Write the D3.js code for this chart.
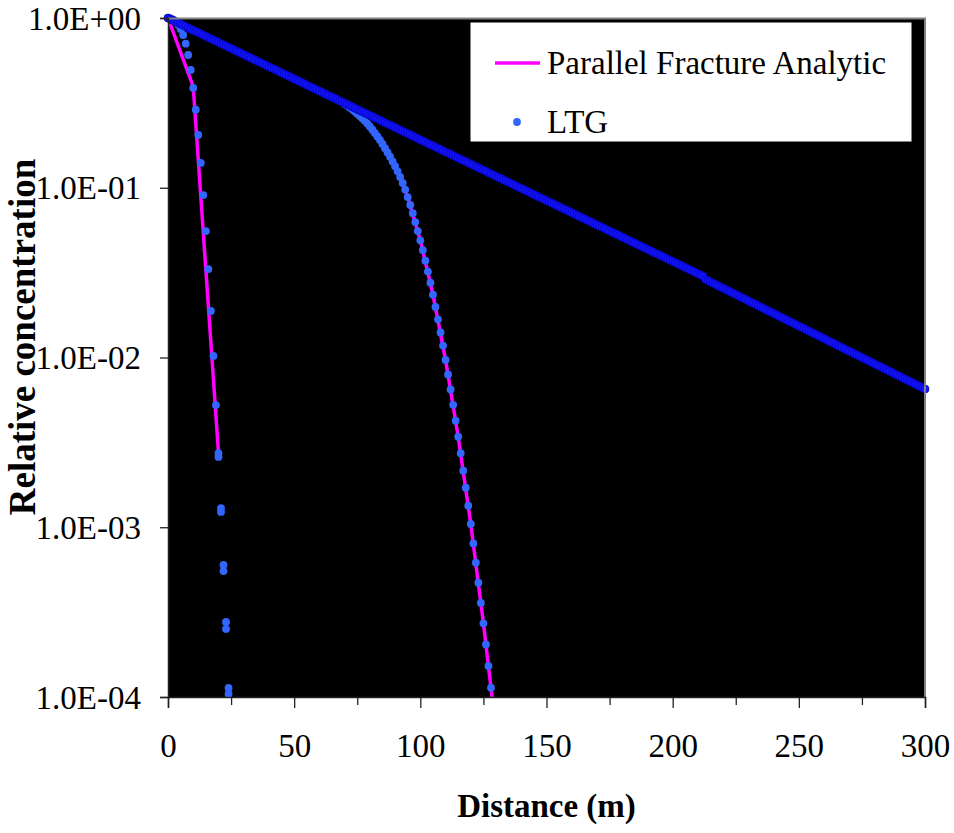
<!DOCTYPE html>
<html>
<head>
<meta charset="utf-8">
<script src="https://cdn.jsdelivr.net/npm/d3@7"></script>
<style>
  body { margin: 0; background: #fff; }
  text { font-family: "Liberation Serif", "Times New Roman", serif; }
</style>
</head>
<body>
<div id="chart"></div>
<script>
// all concentrations are stored as log10(C/C0), distances in m
var stepM = 1;

// LTG, far fracture (straight line), x = 0..300 every 1 m
var ltgFar = [
  0,-0.007,-0.014,-0.022,-0.029,-0.036,-0.043,-0.050,-0.057,-0.065,
  -0.072,-0.079,-0.086,-0.093,-0.100,-0.108,-0.115,-0.122,-0.129,-0.136,
  -0.143,-0.151,-0.158,-0.165,-0.172,-0.179,-0.186,-0.194,-0.201,-0.208,
  -0.215,-0.222,-0.229,-0.237,-0.244,-0.251,-0.258,-0.265,-0.272,-0.280,
  -0.287,-0.294,-0.301,-0.308,-0.315,-0.323,-0.330,-0.337,-0.344,-0.351,
  -0.359,-0.366,-0.373,-0.380,-0.387,-0.394,-0.402,-0.409,-0.416,-0.423,
  -0.430,-0.437,-0.445,-0.452,-0.459,-0.466,-0.473,-0.480,-0.488,-0.495,
  -0.502,-0.509,-0.516,-0.523,-0.531,-0.538,-0.545,-0.552,-0.559,-0.566,
  -0.574,-0.581,-0.588,-0.595,-0.602,-0.609,-0.617,-0.624,-0.631,-0.638,
  -0.645,-0.652,-0.660,-0.667,-0.674,-0.681,-0.688,-0.695,-0.703,-0.710,
  -0.717,-0.724,-0.731,-0.739,-0.746,-0.753,-0.760,-0.767,-0.774,-0.782,
  -0.789,-0.796,-0.803,-0.810,-0.817,-0.825,-0.832,-0.839,-0.846,-0.853,
  -0.860,-0.868,-0.875,-0.882,-0.889,-0.896,-0.903,-0.911,-0.918,-0.925,
  -0.932,-0.939,-0.946,-0.954,-0.961,-0.968,-0.975,-0.982,-0.989,-0.997,
  -1.004,-1.011,-1.018,-1.025,-1.032,-1.040,-1.047,-1.054,-1.061,-1.068,
  -1.076,-1.083,-1.090,-1.097,-1.104,-1.111,-1.119,-1.126,-1.133,-1.140,
  -1.147,-1.154,-1.162,-1.169,-1.176,-1.183,-1.190,-1.197,-1.205,-1.212,
  -1.219,-1.226,-1.233,-1.240,-1.248,-1.255,-1.262,-1.269,-1.276,-1.283,
  -1.291,-1.298,-1.305,-1.312,-1.319,-1.326,-1.334,-1.341,-1.348,-1.355,
  -1.362,-1.369,-1.377,-1.384,-1.391,-1.398,-1.405,-1.412,-1.420,-1.427,
  -1.434,-1.441,-1.448,-1.456,-1.463,-1.470,-1.477,-1.484,-1.491,-1.499,
  -1.506,-1.513,-1.520,-1.540,-1.547,-1.555,-1.562,-1.570,-1.577,-1.585,
  -1.592,-1.599,-1.607,-1.614,-1.622,-1.629,-1.636,-1.644,-1.651,-1.659,
  -1.666,-1.674,-1.681,-1.688,-1.696,-1.703,-1.711,-1.718,-1.726,-1.733,
  -1.740,-1.748,-1.755,-1.763,-1.770,-1.777,-1.785,-1.792,-1.800,-1.807,
  -1.815,-1.822,-1.829,-1.837,-1.844,-1.852,-1.859,-1.866,-1.874,-1.881,
  -1.889,-1.896,-1.904,-1.911,-1.918,-1.926,-1.933,-1.941,-1.948,-1.956,
  -1.963,-1.970,-1.978,-1.985,-1.993,-2.000,-2.007,-2.015,-2.022,-2.030,
  -2.037,-2.045,-2.052,-2.059,-2.067,-2.074,-2.082,-2.089,-2.097,-2.104,
  -2.111,-2.119,-2.126,-2.134,-2.141,-2.148,-2.156,-2.163,-2.171,-2.178,
  -2.186
];
var ltgFarStart = 0;

// LTG, middle curve, x = 60..128 every 1 m
var ltgMid = [
  -0.430,-0.437,-0.445,-0.452,-0.459,-0.466,-0.473,-0.480,-0.488,-0.495,
  -0.506,-0.516,-0.527,-0.538,-0.551,-0.564,-0.577,-0.591,-0.606,-0.622,
  -0.639,-0.658,-0.678,-0.698,-0.719,-0.742,-0.767,-0.792,-0.817,-0.845,
  -0.873,-0.903,-0.936,-0.972,-1.011,-1.055,-1.101,-1.150,-1.202,-1.255,
  -1.310,-1.368,-1.430,-1.494,-1.559,-1.630,-1.702,-1.775,-1.852,-1.930,
  -2.014,-2.100,-2.188,-2.279,-2.372,-2.467,-2.564,-2.667,-2.767,-2.873,
  -2.981,-3.095,-3.209,-3.327,-3.446,-3.566,-3.690,-3.817,-3.945
];
var ltgMidStart = 60;

// LTG, steep curve near the source (pairs at the tail)
var steepX = [0,1,2,3,4,5,6,7,8,9,10,11,12,13,14,15,16,17,18,19,20,20,21,21,22,22,23,23,24,24];
var steepLog = [0,-0.003,-0.010,-0.021,-0.040,-0.065,-0.100,-0.151,-0.218,-0.306,
  -0.412,-0.540,-0.689,-0.854,-1.043,-1.255,-1.479,-1.726,-1.991,-2.280,
  -2.563,-2.586,-2.887,-2.910,-3.222,-3.258,-3.558,-3.599,-3.947,-3.982];

// Parallel fracture analytic
var anaNearX = [0, 10, 20];
var anaNearLog = [0, -0.405, -2.56];
var anaMidX = [60,65,70,75,80,85,90,95,100,105,110,115,120,125,130];
var anaMidLog = [-0.430,-0.466,-0.506,-0.564,-0.639,-0.742,-0.873,-1.055,-1.310,-1.630,-2.014,-2.467,-2.981,-3.566,-4.20];

var xMajor = [0,50,100,150,200,250,300];
var xMinor = [25,75,125,175,225,275];
var yTicks = [1e-4,1e-3,1e-2,1e-1,1];
var yTickLabels = ["1.0E-04","1.0E-03","1.0E-02","1.0E-01","1.0E+00"];
var legendLabels = ["Parallel Fracture Analytic","LTG"];

var margin = {top: 18, right: 29, bottom: 136, left: 168},
    width = 954 - margin.left - margin.right,
    height = 833 - margin.top - margin.bottom;

var x = d3.scaleLinear().domain([0, 300]).range([0, width]);
var y = d3.scaleLog().domain([1e-4, 1]).range([height, 0]);

function pts(xs, logs) {
  return xs.map(function(d, i) { return {x: d, c: Math.pow(10, logs[i])}; });
}
function gridPts(start, logs) {
  return logs.map(function(v, i) { return {x: start + i * stepM, c: Math.pow(10, v)}; });
}

var svg = d3.select("#chart").append("svg")
    .attr("width", 954)
    .attr("height", 833);

svg.append("rect").attr("width", 954).attr("height", 833).attr("fill", "#fff");

var g = svg.append("g")
    .attr("transform", "translate(" + margin.left + "," + margin.top + ")");

g.append("defs").append("clipPath").attr("id", "plotclip")
  .append("rect").attr("width", width).attr("height", height);

g.append("rect")
    .attr("width", width)
    .attr("height", height)
    .attr("fill", "#000");

var line = d3.line()
    .x(function(d) { return x(d.x); })
    .y(function(d) { return y(d.c); });

var lines = g.append("g").attr("clip-path", "url(#plotclip)");
[pts(anaNearX, anaNearLog), pts(anaMidX, anaMidLog)].forEach(function(data) {
  lines.append("path")
      .datum(data)
      .attr("fill", "none")
      .attr("stroke", "#ff00ff")
      .attr("stroke-width", 3.5)
      .attr("d", line);
});

// light blue LTG markers
g.append("g").selectAll("circle")
    .data(pts(steepX, steepLog).concat(gridPts(ltgMidStart, ltgMid)))
  .enter().append("circle")
    .attr("cx", function(d) { return x(d.x); })
    .attr("cy", function(d) { return y(d.c); })
    .attr("r", 3.9)
    .attr("fill", "#3366ff");

// dark blue far-fracture markers, drawn last
g.append("g").selectAll("circle")
    .data(gridPts(ltgFarStart, ltgFar))
  .enter().append("circle")
    .attr("cx", function(d) { return x(d.x); })
    .attr("cy", function(d) { return y(d.c); })
    .attr("r", 4)
    .attr("fill", "#1414ff")
    .attr("stroke", "#0000a8")
    .attr("stroke-width", 0.7);

// plot frame (top / right grey)
g.append("path")
    .attr("d", "M0,0.5H" + width + "V" + height)
    .attr("fill", "none")
    .attr("stroke", "#808080")
    .attr("stroke-width", 2);

// axes
var xAxis = g.append("g")
    .attr("transform", "translate(0," + height + ")")
    .call(d3.axisBottom(x).tickValues(xMajor).tickSize(11).tickPadding(26).tickFormat(d3.format("d")));
g.append("g")
    .attr("transform", "translate(0," + height + ")")
    .call(d3.axisBottom(x).tickValues(xMinor).tickSize(8).tickFormat(""))
    .select(".domain").remove();

var yAxis = g.append("g")
    .call(d3.axisLeft(y).tickValues(yTicks).tickSize(8).tickPadding(19)
      .tickFormat(function(d, i) { return yTickLabels[i]; }));

g.selectAll(".domain").attr("stroke", "#222").attr("stroke-width", 1.5);
g.selectAll(".tick line").attr("stroke", "#222").attr("stroke-width", 1.3);
g.selectAll(".tick text")
    .attr("fill", "#000")
    .style("font-family", "'Liberation Serif', 'Times New Roman', serif")
    .style("font-size", "33px");
yAxis.selectAll(".tick text").attr("dy", "0.34em");

// titles
svg.append("text")
    .attr("x", margin.left + width / 2)
    .attr("y", 817)
    .attr("text-anchor", "middle")
    .style("font-size", "33px")
    .style("font-weight", "bold")
    .text("Distance (m)");

svg.append("text")
    .attr("transform", "translate(35,337) rotate(-90)")
    .attr("text-anchor", "middle")
    .style("font-size", "37px")
    .style("font-weight", "bold")
    .text("Relative concentration");

// legend
var leg = svg.append("g").attr("transform", "translate(470,22)");
leg.append("rect")
    .attr("width", 442)
    .attr("height", 120)
    .attr("fill", "#fff")
    .attr("stroke", "#000")
    .attr("stroke-width", 1);
leg.append("line")
    .attr("x1", 25).attr("x2", 70)
    .attr("y1", 41).attr("y2", 41)
    .attr("stroke", "#ff00ff")
    .attr("stroke-width", 3.5);
leg.append("circle")
    .attr("cx", 47).attr("cy", 100).attr("r", 3.9)
    .attr("fill", "#3366ff");
leg.selectAll("text.lab")
    .data(legendLabels)
  .enter().append("text")
    .attr("class", "lab")
    .attr("x", 77)
    .attr("y", function(d, i) { return 52 + i * 59; })
    .style("font-size", "33px")
    .text(function(d) { return d; });
</script>
</body>
</html>
